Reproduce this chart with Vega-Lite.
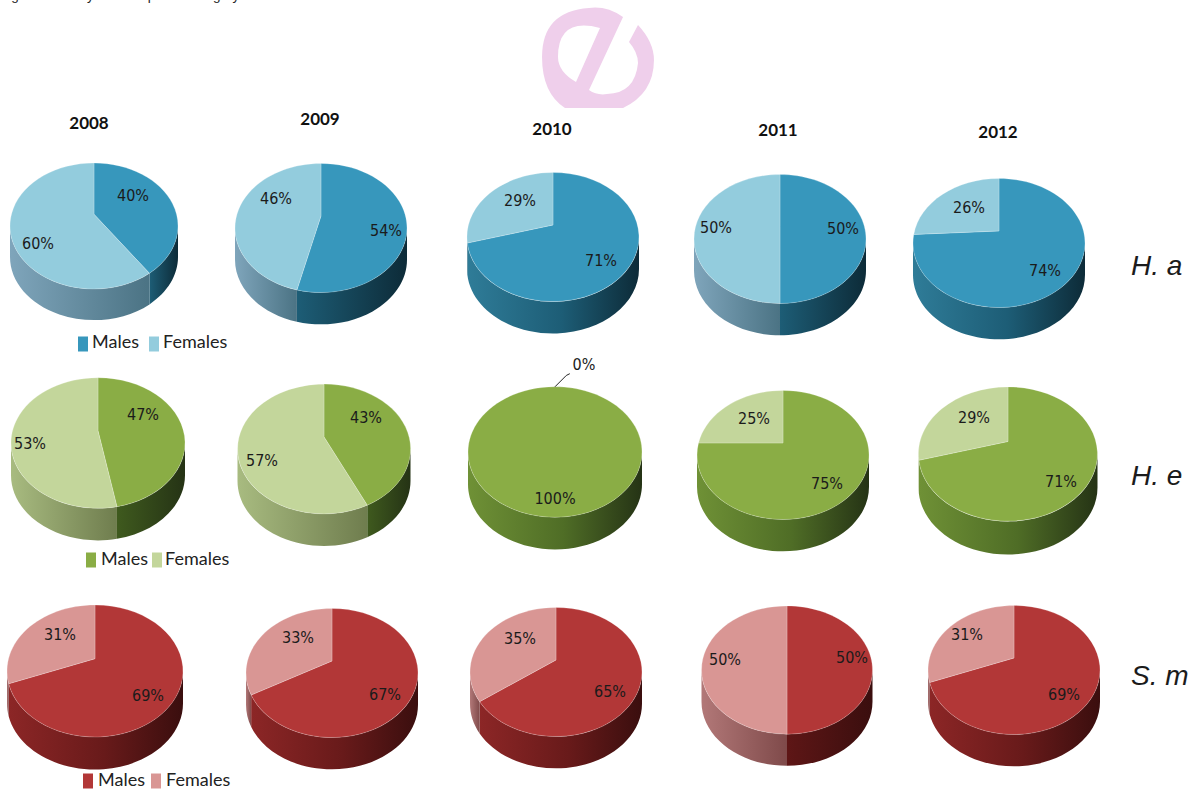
{
  "$schema": "https://vega.github.io/schema/vega-lite/v6.json",
  "width": 1195,
  "height": 794,
  "padding": 0,
  "autosize": {"type": "none"},
  "background": "#ffffff",
  "config": {"view": {"stroke": null}},
  "datasets": {
    "slices": [
      {"pie": 1, "slice": 1, "species": "H. a", "year": 2008, "sex": "Males", "share": 40},
      {"pie": 1, "slice": 2, "species": "H. a", "year": 2008, "sex": "Females", "share": 60},
      {"pie": 2, "slice": 3, "species": "H. a", "year": 2009, "sex": "Males", "share": 54},
      {"pie": 2, "slice": 4, "species": "H. a", "year": 2009, "sex": "Females", "share": 46},
      {"pie": 3, "slice": 5, "species": "H. a", "year": 2010, "sex": "Males", "share": 71},
      {"pie": 3, "slice": 6, "species": "H. a", "year": 2010, "sex": "Females", "share": 29},
      {"pie": 4, "slice": 7, "species": "H. a", "year": 2011, "sex": "Males", "share": 50},
      {"pie": 4, "slice": 8, "species": "H. a", "year": 2011, "sex": "Females", "share": 50},
      {"pie": 5, "slice": 9, "species": "H. a", "year": 2012, "sex": "Males", "share": 74},
      {"pie": 5, "slice": 10, "species": "H. a", "year": 2012, "sex": "Females", "share": 26},
      {"pie": 6, "slice": 11, "species": "H. e", "year": 2008, "sex": "Males", "share": 47},
      {"pie": 6, "slice": 12, "species": "H. e", "year": 2008, "sex": "Females", "share": 53},
      {"pie": 7, "slice": 13, "species": "H. e", "year": 2009, "sex": "Males", "share": 43},
      {"pie": 7, "slice": 14, "species": "H. e", "year": 2009, "sex": "Females", "share": 57},
      {"pie": 8, "slice": 15, "species": "H. e", "year": 2010, "sex": "Males", "share": 100},
      {"pie": 8, "slice": 16, "species": "H. e", "year": 2010, "sex": "Females", "share": 0},
      {"pie": 9, "slice": 17, "species": "H. e", "year": 2011, "sex": "Males", "share": 75},
      {"pie": 9, "slice": 18, "species": "H. e", "year": 2011, "sex": "Females", "share": 25},
      {"pie": 10, "slice": 19, "species": "H. e", "year": 2012, "sex": "Males", "share": 71},
      {"pie": 10, "slice": 20, "species": "H. e", "year": 2012, "sex": "Females", "share": 29},
      {"pie": 11, "slice": 21, "species": "S. m", "year": 2008, "sex": "Males", "share": 69},
      {"pie": 11, "slice": 22, "species": "S. m", "year": 2008, "sex": "Females", "share": 31},
      {"pie": 12, "slice": 23, "species": "S. m", "year": 2009, "sex": "Males", "share": 67},
      {"pie": 12, "slice": 24, "species": "S. m", "year": 2009, "sex": "Females", "share": 33},
      {"pie": 13, "slice": 25, "species": "S. m", "year": 2010, "sex": "Males", "share": 65},
      {"pie": 13, "slice": 26, "species": "S. m", "year": 2010, "sex": "Females", "share": 35},
      {"pie": 14, "slice": 27, "species": "S. m", "year": 2011, "sex": "Males", "share": 50},
      {"pie": 14, "slice": 28, "species": "S. m", "year": 2011, "sex": "Females", "share": 50},
      {"pie": 15, "slice": 29, "species": "S. m", "year": 2012, "sex": "Males", "share": 69},
      {"pie": 15, "slice": 30, "species": "S. m", "year": 2012, "sex": "Females", "share": 31}
    ],
    "years": [
      {"column": 1, "year": "2008"},
      {"column": 2, "year": "2009"},
      {"column": 3, "year": "2010"},
      {"column": 4, "year": "2011"},
      {"column": 5, "year": "2012"}
    ],
    "rows": [
      {"row": 1, "species": "H. a"},
      {"row": 2, "species": "H. e"},
      {"row": 3, "species": "S. m"}
    ],
    "keys": [
      {"entry": 1, "species": "H. a", "sex": "Males"},
      {"entry": 2, "species": "H. a", "sex": "Females"},
      {"entry": 3, "species": "H. e", "sex": "Males"},
      {"entry": 4, "species": "H. e", "sex": "Females"},
      {"entry": 5, "species": "S. m", "sex": "Males"},
      {"entry": 6, "species": "S. m", "sex": "Females"}
    ],
    "emblem": [{"emblem": 1}],
    "heading": [{"heading": 1, "text": "Figure 1. Yearly sex composition of gray"}]
  },
  "layer": [
    {
      "data": {"name": "heading"},
      "mark": {"type": "text", "align": "left", "baseline": "alphabetic", "font": "Liberation Sans", "fontSize": 13.5, "fill": "#222222"},
      "encoding": {
        "x": {"field": "heading", "type": "quantitative", "axis": null, "scale": {"domain": [0, 1], "range": [0, 0], "zero": false, "nice": false}},
        "y": {"field": "heading", "type": "quantitative", "axis": null, "scale": {"domain": [0, 1], "range": [0, 0], "zero": false, "nice": false}},
        "text": {"field": "text"}
      }
    },
    {
      "data": {"name": "emblem"},
      "mark": {"type": "point", "filled": true, "opacity": 1, "fill": "#EFCFEB", "size": 12996,
        "shape": "M0.439 -0.719 L-0.158 0.561 Q-0.02 0.66 0.158 0.632 Q0.65 0.62 0.702 0.088 Q0.7 -0.1 0.544 -0.281 L0.702 -0.579 Q0.98 -0.28 0.982 0.035 Q0.98 0.62 0.439 0.877 L-0.579 0.877 Q-0.98 0.62 -0.982 -0.018 Q-0.98 -0.82 -0.158 -0.877 Q0.15 -0.92 0.439 -0.719 Z M0.035 -0.526 Q-0.7 -0.72 -0.702 -0.018 Q-0.7 0.24 -0.386 0.421 Z"},
      "encoding": {
        "x": {"field": "emblem", "type": "quantitative", "axis": null, "scale": {"domain": [0, 1], "range": [0, 598], "zero": false, "nice": false}},
        "y": {"field": "emblem", "type": "quantitative", "axis": null, "scale": {"domain": [0, 1], "range": [0, 58], "zero": false, "nice": false}}
      }
    },
    {
      "data": {"name": "slices"},
      "transform": [
        {"filter": "!(datum.sex === 'Females' && datum.share <= 26)"},
        {"calculate": "datum.sex[0] + datum.share", "as": "wedge"},
        {"calculate": "datum.species + ' ' + datum.sex + (datum.sex === 'Males' && datum.share >= 60 ? ' wide' : '')", "as": "tone"}
      ],
      "encoding": {
        "x": {"field": "pie", "type": "quantitative", "axis": null, "scale": {"domain": [1,2,3,4,5,6,7,8,9,10,11,12,13,14,15], "range": [94,321,553,780,999,98,324,555,783,1008,95,332,556,787,1014], "zero": false, "nice": false}},
        "y": {"field": "pie", "type": "quantitative", "axis": null, "scale": {"domain": [1,2,3,4,5,6,7,8,9,10,11,12,13,14,15], "range": [226,228,237,239,243,443,449,452,455,454,671,673,672,670,670], "zero": false, "nice": false}},
        "size": {"field": "pie", "type": "quantitative", "legend": null, "scale": {"domain": [1,2,3,4,5,6,7,8,9,10,11,12,13,14,15], "range": [28224,29584,29584,29584,29584,30276,29929,30276,29584,32041,30976,29584,29584,29241,29584], "zero": false, "nice": false}},
        "shape": {"field": "wedge", "type": "nominal", "legend": null, "scale": {
          "domain": ["M40","M43","M47","M50","M54","M65","M67","M69","M71","M74","M75","M100","F60","F57","F53","F50","F46","F35","F33","F31","F29"],
          "range": [
            "M1 0 A1 0.75 0 0 1 0.66 0.5634 L0.66 0.9334 A1 0.75 0 0 0 1 0.37 Z",
            "M1 0 A1 0.75 0 0 1 0.5 0.65 L0.5 1.02 A1 0.75 0 0 0 1 0.37 Z",
            "M1 0 A1 0.75 0 0 1 0.218 0.732 L0.218 1.102 A1 0.75 0 0 0 1 0.37 Z",
            "M1 0 A1 0.75 0 0 1 0 0.75 L0 1.12 A1 0.75 0 0 0 1 0.37 Z",
            "M1 0 A1 0.75 0 0 1 -0.28 0.72 L-0.28 1.09 A1 0.75 0 0 0 1 0.37 Z",
            "M1 0 A1 0.75 0 0 1 -0.888 0.345 L-0.888 0.715 A1 0.75 0 0 0 1 0.37 Z",
            "M1 0 A1 0.75 0 0 1 -0.94 0.256 L-0.94 0.626 A1 0.75 0 0 0 1 0.37 Z",
            "M1 0 A1 0.75 0 0 1 -0.981 0.145 L-0.981 0.515 A1 0.75 0 0 0 1 0.37 Z",
            "M1 0 A1 0.75 0 0 1 -0.996 0.07 L-0.996 0.44 A1 0.75 0 0 0 1 0.37 Z",
            "M1 0 A1 0.75 0 0 1 -1 0 L-1 0.37 A1 0.75 0 0 0 1 0.37 Z",
            "M1 0 A1 0.75 0 0 1 -1 0 L-1 0.37 A1 0.75 0 0 0 1 0.37 Z",
            "M1 0 A1 0.75 0 0 1 -1 0 L-1 0.37 A1 0.75 0 0 0 1 0.37 Z",
            "M0.66 0.5634 A1 0.75 0 0 1 -1 0 L-1 0.37 A1 0.75 0 0 0 0.66 0.9334 Z",
            "M0.5 0.65 A1 0.75 0 0 1 -1 0 L-1 0.37 A1 0.75 0 0 0 0.5 1.02 Z",
            "M0.218 0.732 A1 0.75 0 0 1 -1 0 L-1 0.37 A1 0.75 0 0 0 0.218 1.102 Z",
            "M0 0.75 A1 0.75 0 0 1 -1 0 L-1 0.37 A1 0.75 0 0 0 0 1.12 Z",
            "M-0.28 0.72 A1 0.75 0 0 1 -1 0 L-1 0.37 A1 0.75 0 0 0 -0.28 1.09 Z",
            "M-0.888 0.345 A1 0.75 0 0 1 -1 0 L-1 0.37 A1 0.75 0 0 0 -0.888 0.715 Z",
            "M-0.94 0.256 A1 0.75 0 0 1 -1 0 L-1 0.37 A1 0.75 0 0 0 -0.94 0.626 Z",
            "M-0.981 0.145 A1 0.75 0 0 1 -1 0 L-1 0.37 A1 0.75 0 0 0 -0.981 0.515 Z",
            "M-0.996 0.07 A1 0.75 0 0 1 -1 0 L-1 0.37 A1 0.75 0 0 0 -0.996 0.44 Z"
          ]
        }}
      },
      "layer": [
        {"transform": [{"filter": "datum.tone === 'H. a Males'"}], "mark": {"type": "point", "filled": true, "opacity": 1, "strokeWidth": 0, "fill": {"gradient": "linear", "x1": 0, "y1": 0, "x2": 1, "y2": 0, "stops": [{"offset": 0, "color": "#1d5d76"}, {"offset": 1, "color": "#0d2b38"}]}}},
        {"transform": [{"filter": "datum.tone === 'H. a Males wide'"}], "mark": {"type": "point", "filled": true, "opacity": 1, "strokeWidth": 0, "fill": {"gradient": "linear", "x1": 0, "y1": 0, "x2": 1, "y2": 0, "stops": [{"offset": 0, "color": "#2f7c98"}, {"offset": 0.55, "color": "#1d5d76"}, {"offset": 1, "color": "#0d2b38"}]}}},
        {"transform": [{"filter": "datum.tone === 'H. a Females'"}], "mark": {"type": "point", "filled": true, "opacity": 1, "strokeWidth": 0, "fill": {"gradient": "linear", "x1": 0, "y1": 0, "x2": 1, "y2": 0, "stops": [{"offset": 0, "color": "#7fa5bb"}, {"offset": 1, "color": "#4b7384"}]}}},
        {"transform": [{"filter": "datum.tone === 'H. e Males'"}], "mark": {"type": "point", "filled": true, "opacity": 1, "strokeWidth": 0, "fill": {"gradient": "linear", "x1": 0, "y1": 0, "x2": 1, "y2": 0, "stops": [{"offset": 0, "color": "#3f5a1e"}, {"offset": 1, "color": "#253315"}]}}},
        {"transform": [{"filter": "datum.tone === 'H. e Males wide'"}], "mark": {"type": "point", "filled": true, "opacity": 1, "strokeWidth": 0, "fill": {"gradient": "linear", "x1": 0, "y1": 0, "x2": 1, "y2": 0, "stops": [{"offset": 0, "color": "#6f9136"}, {"offset": 0.55, "color": "#4f6d26"}, {"offset": 1, "color": "#253315"}]}}},
        {"transform": [{"filter": "datum.tone === 'H. e Females'"}], "mark": {"type": "point", "filled": true, "opacity": 1, "strokeWidth": 0, "fill": {"gradient": "linear", "x1": 0, "y1": 0, "x2": 1, "y2": 0, "stops": [{"offset": 0, "color": "#a8bb80"}, {"offset": 1, "color": "#6f7d4e"}]}}},
        {"transform": [{"filter": "datum.tone === 'S. m Males'"}], "mark": {"type": "point", "filled": true, "opacity": 1, "strokeWidth": 0, "fill": {"gradient": "linear", "x1": 0, "y1": 0, "x2": 1, "y2": 0, "stops": [{"offset": 0, "color": "#5e1616"}, {"offset": 1, "color": "#3a0e0e"}]}}},
        {"transform": [{"filter": "datum.tone === 'S. m Males wide'"}], "mark": {"type": "point", "filled": true, "opacity": 1, "strokeWidth": 0, "fill": {"gradient": "linear", "x1": 0, "y1": 0, "x2": 1, "y2": 0, "stops": [{"offset": 0, "color": "#8c2626"}, {"offset": 0.55, "color": "#681a1a"}, {"offset": 1, "color": "#3a0e0e"}]}}},
        {"transform": [{"filter": "datum.tone === 'S. m Females'"}], "mark": {"type": "point", "filled": true, "opacity": 1, "strokeWidth": 0, "fill": {"gradient": "linear", "x1": 0, "y1": 0, "x2": 1, "y2": 0, "stops": [{"offset": 0, "color": "#b27878"}, {"offset": 1, "color": "#7f4a4a"}]}}}
      ]
    },
    {
      "data": {"name": "slices"},
      "transform": [
        {"calculate": "datum.sex[0] + datum.share", "as": "wedge"},
        {"calculate": "datum.species + ' ' + datum.sex", "as": "series"}
      ],
      "mark": {"type": "point", "filled": true, "opacity": 1, "stroke": "#ffffff", "strokeOpacity": 0.22, "strokeWidth": 1},
      "encoding": {
        "x": {"field": "pie", "type": "quantitative", "axis": null, "scale": {"domain": [1,2,3,4,5,6,7,8,9,10,11,12,13,14,15], "range": [94,321,553,780,999,98,324,555,783,1008,95,332,556,787,1014], "zero": false, "nice": false}},
        "y": {"field": "pie", "type": "quantitative", "axis": null, "scale": {"domain": [1,2,3,4,5,6,7,8,9,10,11,12,13,14,15], "range": [226,228,237,239,243,443,449,452,455,454,671,673,672,670,670], "zero": false, "nice": false}},
        "size": {"field": "pie", "type": "quantitative", "legend": null, "scale": {"domain": [1,2,3,4,5,6,7,8,9,10,11,12,13,14,15], "range": [28224,29584,29584,29584,29584,30276,29929,30276,29584,32041,30976,29584,29584,29241,29584], "zero": false, "nice": false}},
        "shape": {"field": "wedge", "type": "nominal", "legend": null, "scale": {
          "domain": ["M40","M43","M47","M50","M54","M65","M67","M69","M71","M74","M75","M100","F60","F57","F53","F50","F46","F35","F33","F31","F29","F26","F25","F0"],
          "range": [
            "M0 -0.14 L0 -0.75 A1 0.75 0 0 1 0.66 0.5634 Z",
            "M0 -0.14 L0 -0.75 A1 0.75 0 0 1 0.5 0.65 Z",
            "M0 -0.14 L0 -0.75 A1 0.75 0 0 1 0.218 0.732 Z",
            "M0 -0.14 L0 -0.75 A1 0.75 0 0 1 0 0.75 Z",
            "M0 -0.14 L0 -0.75 A1 0.75 0 1 1 -0.28 0.72 Z",
            "M0 -0.14 L0 -0.75 A1 0.75 0 1 1 -0.888 0.345 Z",
            "M0 -0.14 L0 -0.75 A1 0.75 0 1 1 -0.94 0.256 Z",
            "M0 -0.14 L0 -0.75 A1 0.75 0 1 1 -0.981 0.145 Z",
            "M0 -0.14 L0 -0.75 A1 0.75 0 1 1 -0.996 0.07 Z",
            "M0 -0.14 L0 -0.75 A1 0.75 0 1 1 -0.991 -0.1 Z",
            "M0 -0.14 L0 -0.75 A1 0.75 0 1 1 -0.982 -0.14 Z",
            "M-1 0 A1 0.75 0 1 1 1 0 A1 0.75 0 1 1 -1 0 Z",
            "M0 -0.14 L0.66 0.5634 A1 0.75 0 1 1 0 -0.75 Z",
            "M0 -0.14 L0.5 0.65 A1 0.75 0 1 1 0 -0.75 Z",
            "M0 -0.14 L0.218 0.732 A1 0.75 0 1 1 0 -0.75 Z",
            "M0 -0.14 L0 0.75 A1 0.75 0 0 1 0 -0.75 Z",
            "M0 -0.14 L-0.28 0.72 A1 0.75 0 0 1 0 -0.75 Z",
            "M0 -0.14 L-0.888 0.345 A1 0.75 0 0 1 0 -0.75 Z",
            "M0 -0.14 L-0.94 0.256 A1 0.75 0 0 1 0 -0.75 Z",
            "M0 -0.14 L-0.981 0.145 A1 0.75 0 0 1 0 -0.75 Z",
            "M0 -0.14 L-0.996 0.07 A1 0.75 0 0 1 0 -0.75 Z",
            "M0 -0.14 L-0.991 -0.1 A1 0.75 0 0 1 0 -0.75 Z",
            "M0 -0.14 L-0.982 -0.14 A1 0.75 0 0 1 0 -0.75 Z",
            "M0 -0.75 L0 -0.75 Z"
          ]
        }},
        "fill": {"field": "series", "type": "nominal", "legend": null, "scale": {
          "domain": ["H. a Males","H. a Females","H. e Males","H. e Females","S. m Males","S. m Females"],
          "range": ["#3797BC","#93CCDD","#8AAD45","#C3D69B","#B23737","#D99694"]
        }}
      }
    },
    {
      "data": {"name": "slices"},
      "transform": [{"filter": "datum.share === 0"}],
      "mark": {"type": "point", "filled": false, "opacity": 1, "stroke": "#222222", "strokeWidth": 1, "size": 30276, "shape": "M0 -0.75 L0.13 -0.88 L0.17 -0.9"},
      "encoding": {
        "x": {"field": "pie", "type": "quantitative", "axis": null, "scale": {"domain": [1, 15], "range": [555, 555], "zero": false, "nice": false}},
        "y": {"field": "pie", "type": "quantitative", "axis": null, "scale": {"domain": [1, 15], "range": [452, 452], "zero": false, "nice": false}}
      }
    },
    {
      "data": {"name": "slices"},
      "transform": [{"calculate": "datum.share + '%'", "as": "label"}],
      "mark": {"type": "text", "align": "center", "baseline": "middle", "font": "DejaVu Sans Condensed, Lato", "fontSize": 16, "fill": "#1b1b1b"},
      "encoding": {
        "x": {"field": "slice", "type": "quantitative", "axis": null, "scale": {"domain": [1,2,3,4,5,6,7,8,9,10,11,12,13,14,15,16,17,18,19,20,21,22,23,24,25,26,27,28,29,30], "range": [133,38,386,276,601,520,843,716,1045,969,143,30,366,262,555,584,827,754,1061,974,148,60,385,298,610,520,852,725,1064,967], "zero": false, "nice": false}},
        "y": {"field": "slice", "type": "quantitative", "axis": null, "scale": {"domain": [1,2,3,4,5,6,7,8,9,10,11,12,13,14,15,16,17,18,19,20,21,22,23,24,25,26,27,28,29,30], "range": [196,244,231,199,261,201,229,228,271,208,415,444,418,461,499,365,484,419,482,418,696,635,695,638,692,639,658,660,695,635], "zero": false, "nice": false}},
        "text": {"field": "label"}
      }
    },
    {
      "data": {"name": "years"},
      "mark": {"type": "text", "align": "center", "baseline": "middle", "font": "Lato", "fontWeight": "bold", "fontSize": 17, "fill": "#111111"},
      "encoding": {
        "x": {"field": "column", "type": "quantitative", "axis": null, "scale": {"domain": [1,2,3,4,5], "range": [89,320,552,778,998], "zero": false, "nice": false}},
        "y": {"field": "column", "type": "quantitative", "axis": null, "scale": {"domain": [1,2,3,4,5], "range": [124,120,130,131,133], "zero": false, "nice": false}},
        "text": {"field": "year"}
      }
    },
    {
      "data": {"name": "rows"},
      "mark": {"type": "text", "align": "left", "baseline": "middle", "font": "Liberation Sans", "fontStyle": "italic", "fontSize": 28, "fill": "#1b1b1b"},
      "encoding": {
        "x": {"field": "row", "type": "quantitative", "axis": null, "scale": {"domain": [1,2,3], "range": [1131,1131,1131], "zero": false, "nice": false}},
        "y": {"field": "row", "type": "quantitative", "axis": null, "scale": {"domain": [1,2,3], "range": [267,477,677], "zero": false, "nice": false}},
        "text": {"field": "species"}
      }
    },
    {
      "data": {"name": "keys"},
      "transform": [{"calculate": "datum.species + ' ' + datum.sex", "as": "series"}],
      "mark": {"type": "point", "filled": true, "opacity": 1, "size": 225, "shape": "M-0.67 -1 L0.67 -1 L0.67 1 L-0.67 1 Z"},
      "encoding": {
        "x": {"field": "entry", "type": "quantitative", "axis": null, "scale": {"domain": [1,2,3,4,5,6], "range": [83,154,91,157,88,156], "zero": false, "nice": false}},
        "y": {"field": "entry", "type": "quantitative", "axis": null, "scale": {"domain": [1,2,3,4,5,6], "range": [344,344,560,560,781,781], "zero": false, "nice": false}},
        "fill": {"field": "series", "type": "nominal", "legend": null, "scale": {
          "domain": ["H. a Males","H. a Females","H. e Males","H. e Females","S. m Males","S. m Females"],
          "range": ["#3797BC","#93CCDD","#8AAD45","#C3D69B","#B23737","#D99694"]
        }}
      }
    },
    {
      "data": {"name": "keys"},
      "mark": {"type": "text", "align": "left", "baseline": "middle", "font": "Lato", "fontSize": 18, "fill": "#222222"},
      "encoding": {
        "x": {"field": "entry", "type": "quantitative", "axis": null, "scale": {"domain": [1,2,3,4,5,6], "range": [92,163,101,165,98,166], "zero": false, "nice": false}},
        "y": {"field": "entry", "type": "quantitative", "axis": null, "scale": {"domain": [1,2,3,4,5,6], "range": [343,343,560,560,781,781], "zero": false, "nice": false}},
        "text": {"field": "sex"}
      }
    }
  ],
  "resolve": {"scale": {"x": "independent", "y": "independent", "size": "independent", "shape": "independent", "fill": "independent"}}
}
